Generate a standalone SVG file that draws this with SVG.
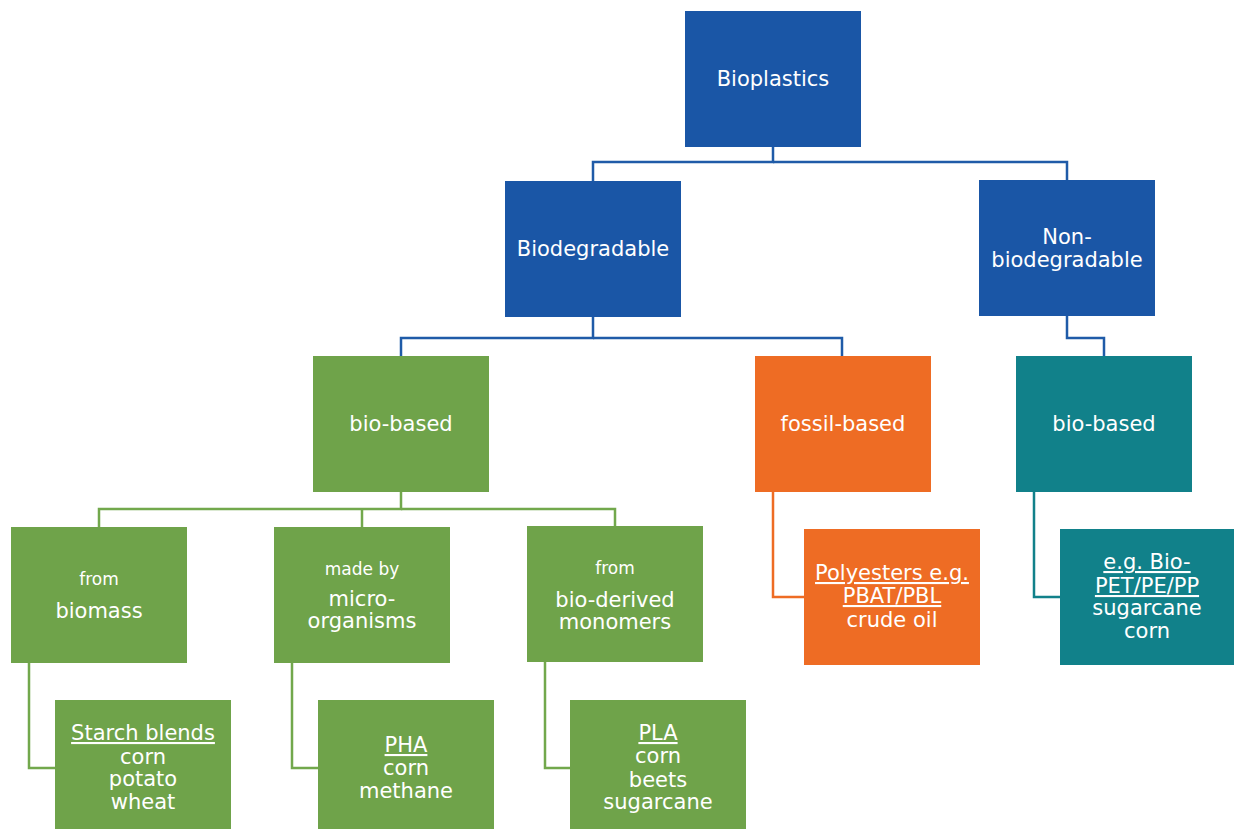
<svg xmlns="http://www.w3.org/2000/svg" width="1234" height="829" viewBox="0 0 1234 829">
<style>
text{font-family:"DejaVu Sans",Verdana,sans-serif;fill:#ffffff;text-anchor:middle;font-size:21px}
.s{font-size:17px}
.u{text-decoration:underline}
.blue{fill:#1A56A6}.green{fill:#6FA34A}.orange{fill:#EE6C24}.teal{fill:#11818A}
.c{fill:none;stroke-width:2.5}
.cb{stroke:#1F5BA8}.cg{stroke:#72A84C}.co{stroke:#EE6C24}.ct{stroke:#11818A}
</style>
<rect width="1234" height="829" fill="#ffffff"/>
<g id="connectors">
<polyline class="c cb" points="773,147 773,162 593,162 593,181"/>
<polyline class="c cb" points="773,162 1067,162 1067,180"/>
<polyline class="c cb" points="593,317 593,338 401,338 401,356"/>
<polyline class="c cb" points="593,338 842,338 842,356"/>
<polyline class="c cb" points="1067,316 1067,338 1104,338 1104,356"/>
<polyline class="c cg" points="401,492 401,509 99,509 99,527"/>
<polyline class="c cg" points="362,509 362,527"/>
<polyline class="c cg" points="401,509 615,509 615,526"/>
<polyline class="c cg" points="29,663 29,768 55,768"/>
<polyline class="c cg" points="292,663 292,768 318,768"/>
<polyline class="c cg" points="545,662 545,768 570,768"/>
<polyline class="c co" points="773,492 773,597 804,597"/>
<polyline class="c ct" points="1034,492 1034,597 1060,597"/>
</g>
<g id="bioplastics"><rect class="blue" x="685" y="11" width="176" height="136"/><text x="773" y="86">Bioplastics</text></g>
<g id="biodegradable"><rect class="blue" x="505" y="181" width="176" height="136"/><text x="593" y="256">Biodegradable</text></g>
<g id="non-biodegradable"><rect class="blue" x="979" y="180" width="176" height="136"/><text x="1067" y="244">Non-</text><text x="1067" y="267">biodegradable</text></g>
<g id="bio-based-green"><rect class="green" x="313" y="356" width="176" height="136"/><text x="401" y="431">bio-based</text></g>
<g id="fossil-based"><rect class="orange" x="755" y="356" width="176" height="136"/><text x="843" y="431">fossil-based</text></g>
<g id="bio-based-teal"><rect class="teal" x="1016" y="356" width="176" height="136"/><text x="1104" y="431">bio-based</text></g>
<g id="from-biomass"><rect class="green" x="11" y="527" width="176" height="136"/><text class="s" x="99" y="585">from</text><text x="99" y="618">biomass</text></g>
<g id="micro-organisms"><rect class="green" x="274" y="527" width="176" height="136"/><text class="s" x="362" y="575">made by</text><text x="362" y="606">micro-</text><text x="362" y="628">organisms</text></g>
<g id="bio-derived"><rect class="green" x="527" y="526" width="176" height="136"/><text class="s" x="615" y="574">from</text><text x="615" y="607">bio-derived</text><text x="615" y="629">monomers</text></g>
<g id="starch"><rect class="green" x="55" y="700" width="176" height="129"/><text class="u" x="143" y="740">Starch blends</text><text x="143" y="764">corn</text><text x="143" y="786">potato</text><text x="143" y="809">wheat</text></g>
<g id="pha"><rect class="green" x="318" y="700" width="176" height="129"/><text class="u" x="406" y="752">PHA</text><text x="406" y="775">corn</text><text x="406" y="798">methane</text></g>
<g id="pla"><rect class="green" x="570" y="700" width="176" height="129"/><text class="u" x="658" y="740">PLA</text><text x="658" y="763">corn</text><text x="658" y="787">beets</text><text x="658" y="809">sugarcane</text></g>
<g id="polyesters"><rect class="orange" x="804" y="529" width="176" height="136"/><text class="u" x="892" y="580">Polyesters e.g.</text><text class="u" x="892" y="603">PBAT/PBL</text><text x="892" y="627">crude oil</text></g>
<g id="bio-pet"><rect class="teal" x="1060" y="529" width="174" height="136"/><text class="u" x="1147" y="569">e.g. Bio-</text><text class="u" x="1147" y="593">PET/PE/PP</text><text x="1147" y="615">sugarcane</text><text x="1147" y="638">corn</text></g>
</svg>
